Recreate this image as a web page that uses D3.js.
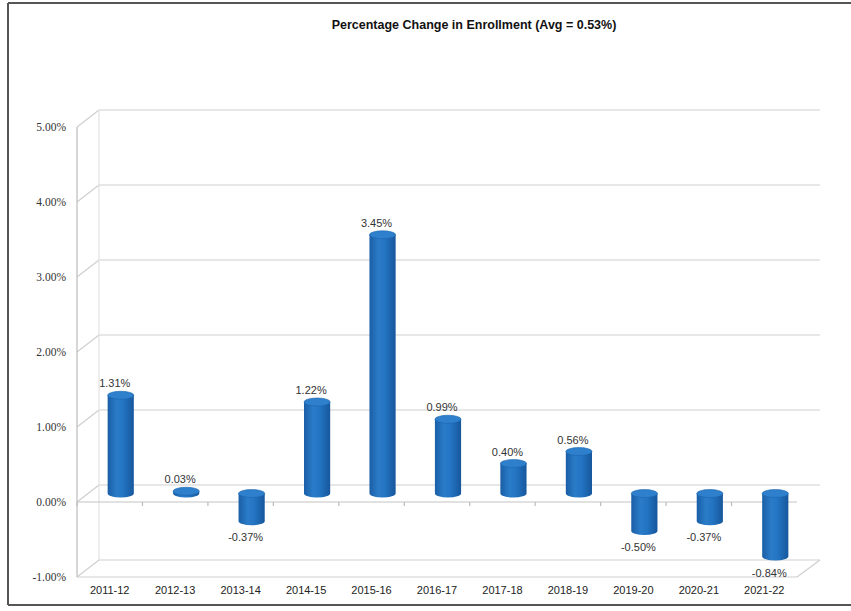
<!DOCTYPE html>
<html>
<head>
<meta charset="utf-8">
<script src="https://cdn.jsdelivr.net/npm/d3@7"></script>
<style>
  html, body { margin: 0; padding: 0; background: #fff; }
  svg { display: block; }
</style>
</head>
<body>
<svg id="chart" width="851" height="611"></svg>
<script>
const categories = ["2011-12","2012-13","2013-14","2014-15","2015-16","2016-17","2017-18","2018-19","2019-20","2020-21","2021-22"];
const values = [1.31, 0.03, -0.37, 1.22, 3.45, 0.99, 0.40, 0.56, -0.50, -0.37, -0.84];
const yTicks = [-1, 0, 1, 2, 3, 4, 5];
const title = "Percentage Change in Enrollment (Avg = 0.53%)";

const locale = d3.formatLocale({ decimal: ".", thousands: ",", grouping: [3], currency: ["", ""], minus: "-" });
const fmt = v => locale.format(".2f")(v) + "%";

const svg = d3.select("#chart");
const W = 851, H = 611;

// frame
svg.append("line").attr("x1", 8).attr("y1", 3).attr("x2", W).attr("y2", 3).attr("stroke", "#555").attr("stroke-width", 2);
svg.append("line").attr("x1", 8).attr("y1", 3).attr("x2", 8).attr("y2", 605).attr("stroke", "#555").attr("stroke-width", 2);
svg.append("line").attr("x1", 8).attr("y1", 605).attr("x2", W).attr("y2", 605).attr("stroke", "#555").attr("stroke-width", 2);

// title
svg.append("text").attr("x", 474).attr("y", 29).attr("text-anchor", "middle")
  .attr("font-family", "Liberation Sans, Arial, sans-serif").attr("font-weight", "bold")
  .attr("font-size", 12.5).attr("fill", "#111").text(title);

// 3D geometry
const depthX = 22, depthY = -17;
const x = d3.scaleBand().domain(categories).range([77, 797]).paddingInner(0.6).paddingOuter(0.3);
const xc = d => x(d) + x.bandwidth() / 2;
const y = d3.scaleLinear().domain([-1, 5]).range([577, 127]);

const grid = svg.append("g").attr("stroke", "#cfcfcf").attr("stroke-width", 1.2).attr("fill", "none");
// back wall gridlines + side diagonals
yTicks.forEach(t => {
  const yf = y(t), yb = y(t) + depthY;
  grid.append("line").attr("x1", 77 + depthX).attr("y1", yb).attr("x2", 820).attr("y2", yb);
  grid.append("line").attr("x1", 77).attr("y1", yf).attr("x2", 77 + depthX).attr("y2", yb);
});
// left axis and back-left edge
grid.append("line").attr("x1", 77).attr("y1", y(5)).attr("x2", 77).attr("y2", y(-1)).attr("stroke", "#bdbdbd");
grid.append("line").attr("x1", 77 + depthX).attr("y1", y(5) + depthY).attr("x2", 77 + depthX).attr("y2", y(-1) + depthY).attr("stroke", "#e2e2e2");
// floor front edge and right diagonal
grid.append("line").attr("x1", 77).attr("y1", y(-1)).attr("x2", 797).attr("y2", y(-1));
grid.append("line").attr("x1", 797).attr("y1", y(-1)).attr("x2", 820).attr("y2", y(-1) + depthY);
// zero plane front edge
grid.append("line").attr("x1", 77).attr("y1", y(0)).attr("x2", 797).attr("y2", y(0)).attr("stroke", "#c4c4c4");
// small ticks on zero front line
categories.forEach((c, i) => {
  const xb = x.step() * i + 77;
  grid.append("line").attr("x1", xb).attr("y1", y(0)).attr("x2", xb).attr("y2", y(0) + 4).attr("stroke", "#bbb");
});

// y tick labels
svg.append("g").selectAll("text").data(yTicks).join("text")
  .attr("x", 66).attr("y", d => y(d) + 4).attr("text-anchor", "end")
  .attr("font-family", "Liberation Serif, Times New Roman, serif").attr("font-size", 11.5)
  .attr("fill", "#333").text(d => fmt(d));

// x labels
svg.append("g").selectAll("text").data(categories).join("text")
  .attr("x", d => xc(d)).attr("y", 594).attr("text-anchor", "middle")
  .attr("font-family", "Liberation Sans, Arial, sans-serif").attr("font-size", 11)
  .attr("fill", "#222").text(d => d);

// gradients
const defs = svg.append("defs");
const g1 = defs.append("linearGradient").attr("id", "cyl").attr("x1", "0").attr("x2", "1").attr("y1", "0").attr("y2", "0");
g1.append("stop").attr("offset", "0").attr("stop-color", "#1a5ea6");
g1.append("stop").attr("offset", "0.35").attr("stop-color", "#2a7cc8");
g1.append("stop").attr("offset", "0.6").attr("stop-color", "#2374c2");
g1.append("stop").attr("offset", "1").attr("stop-color", "#17579c");

// cylinders
const mid = { dx: depthX / 2, dy: depthY / 2 };
const ry = 4;
const bars = svg.append("g");
categories.forEach((c, i) => {
  const v = values[i];
  const cx = xc(c) + mid.dx;
  const w = x.bandwidth();
  const y0 = y(0) + mid.dy, y1 = y(v) + mid.dy;
  const top = Math.min(y0, y1), bot = Math.max(y0, y1);
  const g = bars.append("g");
  g.append("path")
    .attr("d", `M${cx - w/2},${top} L${cx - w/2},${bot} A${w/2},${ry} 0 0 0 ${cx + w/2},${bot} L${cx + w/2},${top} Z`)
    .attr("fill", "url(#cyl)");
  g.append("ellipse").attr("cx", cx).attr("cy", top).attr("rx", w/2).attr("ry", ry)
    .attr("fill", "#2e80cc").attr("stroke", "#1b63ad").attr("stroke-width", 0.6);
  // data label
  const lx = xc(c) + 5;
  const ly = v >= 0 ? top - ry - 4 : bot + ry + 16;
  svg.append("text").attr("x", lx).attr("y", ly).attr("text-anchor", "middle")
    .attr("font-family", "Liberation Sans, Arial, sans-serif").attr("font-size", 11)
    .attr("fill", "#333").text(fmt(v));
});
</script>
</body>
</html>
